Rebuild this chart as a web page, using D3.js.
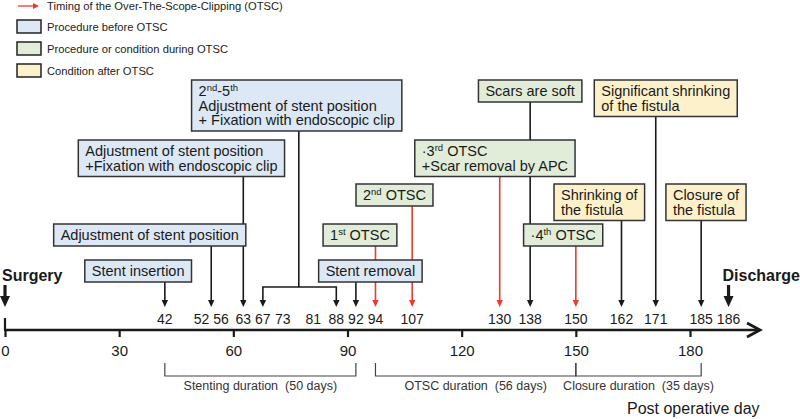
<!doctype html>
<html lang="en">
<head>
<meta charset="utf-8">
<title>OTSC timeline</title>
<script src="https://d3js.org/d3.v7.min.js"></script>
<style>
  body { margin: 0; background: #fff; }
  svg { font-family: "Liberation Sans", Arial, sans-serif; display: block; }
</style>
</head>
<body>
<svg width="800" height="419"></svg>
<script>
// ---- data ----
var ticks = [0, 30, 60, 90, 120, 150, 180];
var labelDays = [42, 52, 56, 63, 67, 73, 81, 88, 92, 94, 107, 130, 138, 150, 162, 171, 185, 186];

var eventText = [
    ["Stent insertion"],
    ["Adjustment of stent position"],
    ["Adjustment of stent position", "+Fixation with endoscopic clip"],
    ["2^nd-5^th", "Adjustment of stent position", "+ Fixation with endoscopic clip"],
    ["Stent removal"],
    ["1^st OTSC"],
    ["2^nd OTSC"],
    ["\u00b73^rd OTSC", "+Scar removal by APC"],
    ["Scars are soft"],
    ["\u00b74^th OTSC"],
    ["Shrinking of", "the fistula"],
    ["Significant shrinking", "of the fistula"],
    ["Closure of", "the fistula"]
];
var eventDays = [[42], [52, 56], [63], [67, 73, 81, 88], [92], [94], [107], [130], [138], [150], [162], [171], [185]];
var eventType = ["before", "before", "before", "before", "before", "during", "during", "during", "during", "during", "after", "after", "after"];
var eventOtsc = [false, false, false, false, false, true, true, true, false, true, false, false, false];

var legendLabels = ["Procedure before OTSC", "Procedure or condition during OTSC", "Condition after OTSC"];
var legendTypes = ["before", "during", "after"];
var otscLegend = "Timing of the Over-The-Scope-Clipping (OTSC)";

var durationLabels = ["Stenting duration  (50 days)", "OTSC duration  (56 days)", "Closure duration  (35 days)"];
var durationDays = [[42, 92], [94, 150], [150, 185]];

var milestones = ["Surgery", "Discharge"];
var milestoneDays = [0, 186];

// ---- layout ----
var fills = { before: "#dce8f5", during: "#e1edd9", after: "#fcf1cb" };
var red = "#ee3a2f", ink = "#1a1a1a";
var axisY = 330, tipY = 307, axisEnd = 760;
var rowTop = [80, 140, 184, 224, 260];
var eventRow = [4, 3, 1, 0, 4, 3, 2, 1, 0, 3, 2, 0, 2];
var eventAnchor = [0.75, 0.82, 0.80, 0.51, 0.36, 0.71, 0.73, 0.53, 0.5, 0.66, 0.745, 0.43, 0.44];
var boxFont = 14.5, lineH = 14.5;

var svg = d3.select("svg");
var x = d3.scaleLinear().domain([0, 180]).range([5, 690]);

// writes "2^nd" style superscripts as tspans
function richText(sel, str) {
    var parts = str.split(/\^([a-z]+)/);
    parts.forEach(function(p, i) {
        if (p === "") return;
        var t = sel.append("tspan").text(p);
        if (i % 2 == 1) {
            t.style("font-size", "9.5px").attr("dy", -5);
        } else if (i > 0) {
            t.attr("dy", 5);
        }
    });
}

function arrowHead(g, cx, y, color, s) {
    g.append("path")
        .attr("d", "M" + (cx - s) + "," + (y - s * 2.2) + "L" + (cx + s) + "," + (y - s * 2.2) + "L" + cx + "," + y + "Z")
        .attr("fill", color);
}

// ---- day labels, pushed apart (mostly rightwards) so they don't overlap ----
var dayText = svg.append("g").selectAll("text")
    .data(labelDays)
    .enter()
    .append("text")
    .attr("y", axisY - 6)
    .attr("text-anchor", "middle")
    .style("font-size", "14px")
    .attr("fill", ink)
    .text(function(d) { return d; });

var pos = labelDays.map(function(d, i) {
    return { d: d, x: x(d), w: dayText.nodes()[i].getComputedTextLength() };
});
for (var it = 0; it < 300; it++) {
    for (var i = 1; i < pos.length; i++) {
        var need = (pos[i].w + pos[i - 1].w) / 2 + 4;
        var gap = pos[i].x - pos[i - 1].x;
        if (gap < need) {
            pos[i - 1].x -= (need - gap) / 3;
            pos[i].x += (need - gap) * 2 / 3;
        }
    }
}
dayText.attr("x", function(d, i) { return pos[i].x; });
var dx = {};
pos.forEach(function(p) { dx[p.d] = p.x; });
dx[0] = x(0);

// ---- connectors (under the boxes) ----
var conn = svg.append("g");
var boxes = svg.append("g");

eventText.forEach(function(lines, i) {
    var days = eventDays[i];
    var color = eventOtsc[i] ? red : ink;
    var top = rowTop[eventRow[i]];
    var h = lines.length * lineH + 7.5;
    var cx = d3.mean(days, function(d) { return dx[d]; });

    if (days.length > 2) {
        var bY = tipY - 20;
        var x0 = dx[days[0]], x1 = dx[days[days.length - 1]];
        conn.append("line").attr("x1", cx).attr("x2", cx).attr("y1", top + h).attr("y2", bY)
            .attr("stroke", color).attr("stroke-width", 1.6);
        conn.append("path")
            .attr("d", "M" + x0 + "," + (tipY - 6) + "V" + bY + "H" + x1 + "V" + (tipY - 6))
            .attr("fill", "none").attr("stroke", color).attr("stroke-width", 1.6);
        arrowHead(conn, x0, tipY, color, 3.2);
        arrowHead(conn, x1, tipY, color, 3.2);
    } else {
        conn.append("line").attr("x1", cx).attr("x2", cx).attr("y1", top + h).attr("y2", tipY - 6)
            .attr("stroke", color).attr("stroke-width", 1.6);
        arrowHead(conn, cx, tipY, color, 3.2);
    }

    // box with its text lines
    var g = boxes.append("g");
    var tg = g.append("g");
    lines.forEach(function(l, j) {
        var t = tg.append("text")
            .attr("y", top + 16 + j * lineH)
            .style("font-size", boxFont + "px")
            .attr("fill", ink);
        richText(t, l);
    });
    var w = d3.max(tg.selectAll("text").nodes(), function(n) { return n.getComputedTextLength(); }) + 14;
    var left = cx - eventAnchor[i] * w;
    tg.selectAll("text").attr("x", left + 7);
    g.insert("rect", ":first-child")
        .attr("x", left).attr("y", top).attr("width", w).attr("height", h)
        .attr("fill", fills[eventType[i]])
        .attr("stroke", "#333").attr("stroke-width", 1.5);
});

// ---- milestones ----
milestones.forEach(function(m, i) {
    var mx = dx[milestoneDays[i]];
    svg.append("line").attr("x1", mx).attr("x2", mx).attr("y1", tipY - 22).attr("y2", tipY - 8)
        .attr("stroke", ink).attr("stroke-width", 3.2);
    arrowHead(svg, mx, tipY, ink, 5);
    svg.append("text")
        .attr("x", i == 0 ? mx - 3 : mx - 6)
        .attr("y", 281)
        .style("font-size", "16px").style("font-weight", "bold")
        .attr("fill", ink)
        .text(m);
});

// ---- axis ----
var axisG = svg.append("g")
    .attr("transform", "translate(0," + axisY + ")")
    .call(d3.axisBottom(x).tickValues(ticks).tickSizeInner(7).tickSizeOuter(0).tickPadding(8));
axisG.select(".domain").remove();
axisG.selectAll(".tick line").attr("stroke", ink).attr("stroke-width", 2.2);
axisG.selectAll(".tick text").style("font-size", "15px").attr("fill", ink)
    .style("font-family", "'Liberation Sans', Arial, sans-serif");

svg.append("line").attr("x1", x(0)).attr("x2", x(0)).attr("y1", axisY - 12).attr("y2", axisY)
    .attr("stroke", ink).attr("stroke-width", 2.2);
svg.append("line").attr("x1", x(0) - 1).attr("x2", axisEnd - 1).attr("y1", axisY).attr("y2", axisY)
    .attr("stroke", ink).attr("stroke-width", 2.6);
svg.append("path")
    .attr("d", "M" + (axisEnd - 13) + "," + (axisY - 7) + "L" + axisEnd + "," + axisY + "L" + (axisEnd - 13) + "," + (axisY + 7))
    .attr("fill", "none").attr("stroke", ink).attr("stroke-width", 2.8);

svg.append("text")
    .attr("x", 627).attr("y", 414)
    .style("font-size", "16px").attr("fill", ink)
    .text("Post operative day");

// ---- duration brackets ----
var brTop = 363, brBot = 376;
var brG = svg.append("g");
durationDays.forEach(function(dd, i) {
    var a = dx[dd[0]], b = dx[dd[1]];
    brG.append("path")
        .attr("d", "M" + a + "," + brTop + "V" + brBot + "H" + b + "V" + brTop)
        .attr("fill", "none").attr("stroke", "#444").attr("stroke-width", 1.2);
    brG.append("text")
        .attr("x", (a + b) / 2).attr("y", brBot + 14)
        .attr("text-anchor", "middle")
        .style("font-size", "12.5px").style("white-space", "pre")
        .attr("fill", "#333")
        .text(durationLabels[i]);
});

// ---- legend ----
var leg = svg.append("g");
leg.append("line").attr("x1", 18).attr("x2", 34).attr("y1", 6).attr("y2", 6)
    .attr("stroke", red).attr("stroke-width", 1.3);
leg.append("path").attr("d", "M33,3L39,6L33,9Z").attr("fill", red);
leg.append("text").attr("x", 47).attr("y", 10).style("font-size", "11.2px").attr("fill", "#222").text(otscLegend);
leg.selectAll("rect.l").data(legendLabels).enter().append("rect")
    .attr("x", 17).attr("y", function(d, i) { return 20 + i * 22; })
    .attr("width", 24).attr("height", 13)
    .attr("fill", function(d, i) { return fills[legendTypes[i]]; })
    .attr("stroke", "#222").attr("stroke-width", 1.5);
leg.selectAll("text.l").data(legendLabels).enter().append("text")
    .attr("x", 47).attr("y", function(d, i) { return 31 + i * 22; })
    .style("font-size", "11.2px").attr("fill", "#222")
    .text(function(d) { return d; });
</script>
</body>
</html>
